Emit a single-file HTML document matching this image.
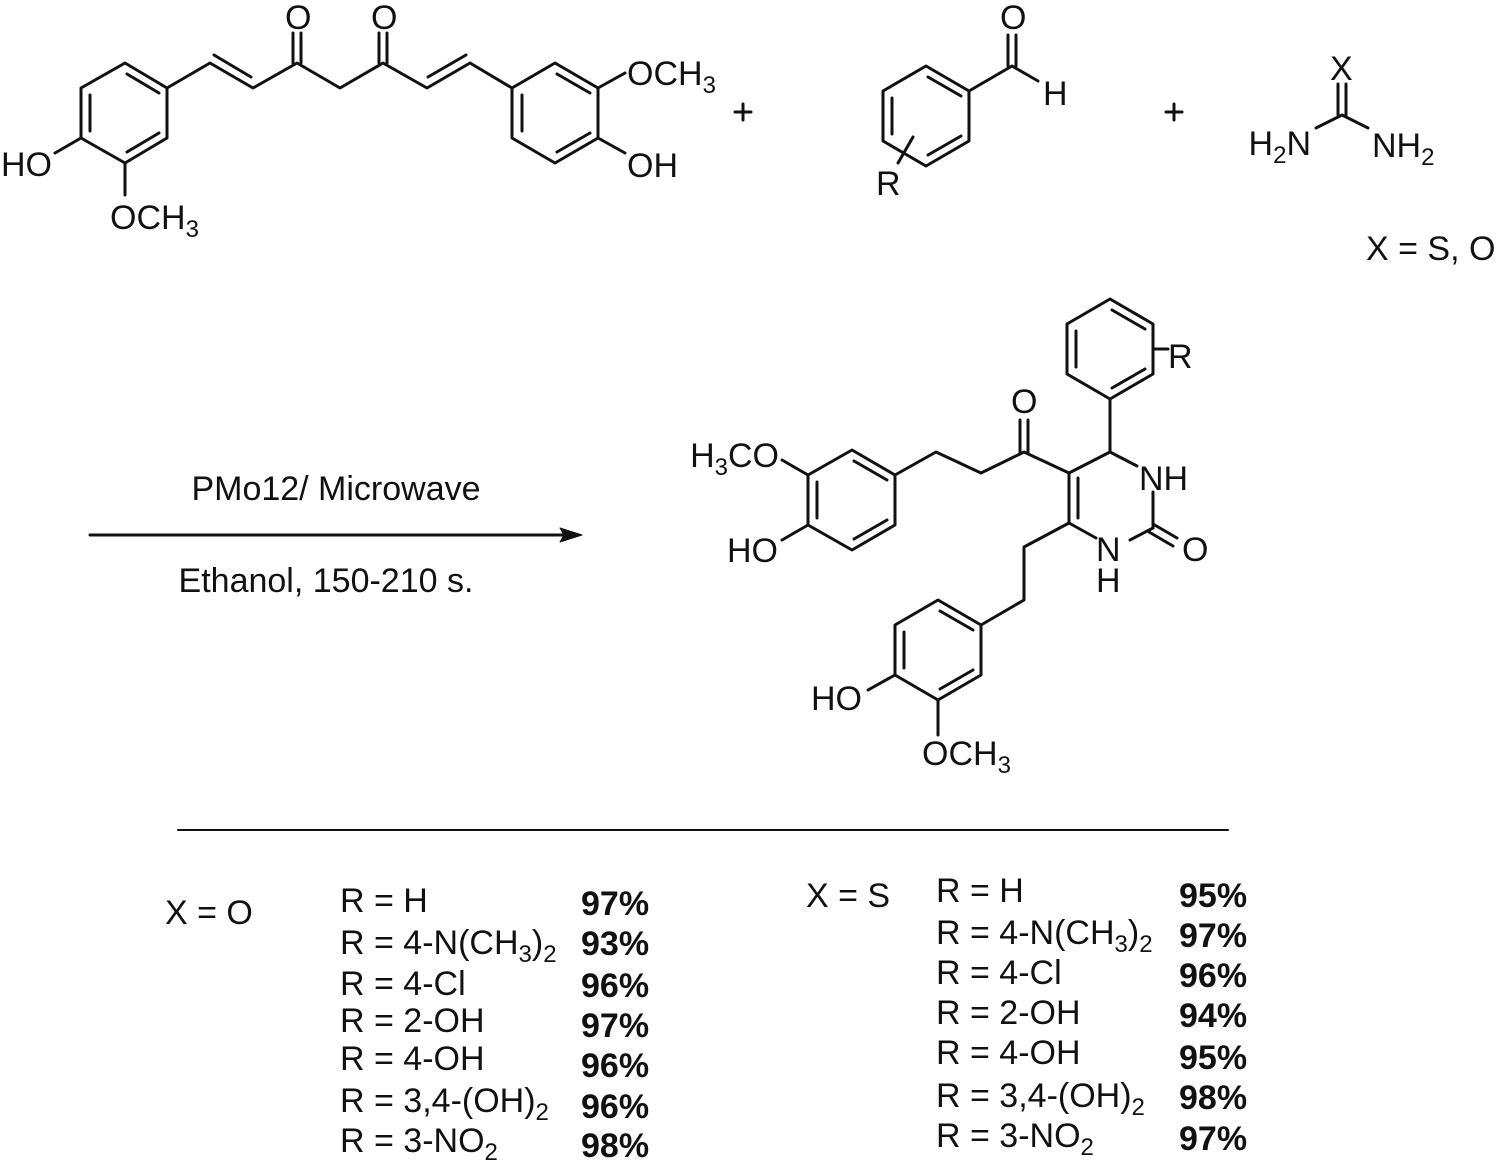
<!DOCTYPE html>
<html><head><meta charset="utf-8"><style>
html,body{margin:0;padding:0;background:#fff;}
svg{display:block}
text{font-family:"Liberation Sans",Arial,sans-serif;font-size:34px;fill:#111;}
.b{font-weight:bold}
</style></head><body>
<svg width="1500" height="1162" viewBox="0 0 1500 1162" xmlns="http://www.w3.org/2000/svg">
<g stroke="#111" stroke-width="3" fill="none" stroke-linecap="round" stroke-linejoin="round">
<polygon points="125,63 167,88 167,138 125,163 81,138 81,88"/>
<line x1="90" y1="95" x2="90" y2="131"/>
<line x1="127" y1="74" x2="159" y2="93"/>
<line x1="127" y1="152" x2="159" y2="133"/>
<line x1="81" y1="138" x2="55" y2="153"/>
<line x1="125" y1="163" x2="125" y2="195"/>
<polyline points="167,88 210,63 253,88 297,63 340,88 383,63 427,88 470,63 512,88"/>
<line x1="214" y1="55" x2="251" y2="77"/>
<line x1="428" y1="77" x2="466" y2="55"/>
<line x1="293" y1="63" x2="293" y2="33"/><line x1="301" y1="63" x2="301" y2="33"/>
<line x1="379" y1="63" x2="379" y2="33"/><line x1="387" y1="63" x2="387" y2="33"/>
<polygon points="555,63 598,88 598,138 555,163 512,138 512,88"/>
<line x1="522" y1="95" x2="522" y2="131"/>
<line x1="557" y1="74" x2="590" y2="93"/>
<line x1="557" y1="152" x2="590" y2="133"/>
<line x1="598" y1="88" x2="625" y2="73"/>
<line x1="598" y1="138" x2="625" y2="153"/>
<line x1="735" y1="112" x2="751" y2="112"/><line x1="743" y1="104" x2="743" y2="120"/>
<line x1="1166" y1="112" x2="1182" y2="112"/><line x1="1174" y1="104" x2="1174" y2="120"/>
<polygon points="926,66 969,91 969,141 926,166 883,141 883,91"/>
<line x1="892" y1="98" x2="892" y2="134"/>
<line x1="928" y1="77" x2="961" y2="96"/>
<line x1="928" y1="155" x2="961" y2="136"/>
<polyline points="969,91 1012,66 1038,81"/>
<line x1="1008" y1="66" x2="1008" y2="35"/><line x1="1016" y1="66" x2="1016" y2="35"/>
<line x1="913" y1="137" x2="898" y2="163"/>
<line x1="1338" y1="84" x2="1338" y2="115"/><line x1="1346" y1="84" x2="1346" y2="115"/>
<polyline points="1316,128 1342,115 1368,128"/>
<line x1="90" y1="535" x2="570" y2="535"/>
<polygon points="582,535 560,528 564,535 560,542" fill="#111" stroke-width="1"/>
<polygon points="1110,299 1153,324 1153,374 1110,399 1067,374 1067,324"/>
<line x1="1076" y1="331" x2="1076" y2="367"/>
<line x1="1112" y1="310" x2="1145" y2="329"/>
<line x1="1112" y1="388" x2="1145" y2="369"/>
<line x1="1153" y1="349" x2="1168" y2="349"/>
<line x1="1110" y1="399" x2="1110" y2="452"/>
<polyline points="1137,466 1110,452 1069,473 1069,523 1096,538"/>
<line x1="1078" y1="478" x2="1078" y2="518"/>
<line x1="1153" y1="492" x2="1153" y2="528"/>
<line x1="1153" y1="528" x2="1130" y2="540"/>
<line x1="1153" y1="524" x2="1177" y2="538"/><line x1="1149" y1="532" x2="1173" y2="546"/>
<polyline points="1069,473 1024,452 981,473 936,452 895,475"/>
<line x1="1020" y1="452" x2="1020" y2="420"/><line x1="1028" y1="452" x2="1028" y2="420"/>
<polygon points="852,450 895,475 895,525 852,550 808,525 808,475"/>
<line x1="817" y1="482" x2="817" y2="518"/>
<line x1="854" y1="461" x2="887" y2="480"/>
<line x1="854" y1="539" x2="887" y2="520"/>
<line x1="808" y1="475" x2="782" y2="460"/>
<line x1="808" y1="525" x2="782" y2="540"/>
<polyline points="1069,523 1024,547 1024,600 981,625"/>
<polygon points="938,600 981,625 981,675 938,700 895,675 895,625"/>
<line x1="904" y1="632" x2="904" y2="668"/>
<line x1="940" y1="611" x2="973" y2="630"/>
<line x1="940" y1="689" x2="973" y2="670"/>
<line x1="895" y1="675" x2="868" y2="690"/>
<line x1="938" y1="700" x2="938" y2="735"/>
<line x1="178" y1="830" x2="1228" y2="830" stroke-width="2"/>
</g>
<g>
<text x="52" y="176" text-anchor="end">HO</text>
<text x="110" y="229">OCH<tspan font-size="24" dy="8">3</tspan></text>
<text x="285" y="29">O</text>
<text x="371" y="29">O</text>
<text x="627" y="85">OCH<tspan font-size="24" dy="8">3</tspan></text>
<text x="627" y="177">OH</text>
<text x="1000" y="29">O</text>
<text x="1043" y="105">H</text>
<text x="876" y="195">R</text>
<text x="1330" y="80">X</text>
<text x="1311" y="155" text-anchor="end">H<tspan font-size="24" dy="8">2</tspan><tspan dy="-8">N</tspan></text>
<text x="1372" y="157">NH<tspan font-size="24" dy="8">2</tspan></text>
<text x="1366" y="260">X = S, O</text>
<text x="1168" y="368">R</text>
<text x="1011" y="413">O</text>
<text x="779" y="467" text-anchor="end">H<tspan font-size="24" dy="8">3</tspan><tspan dy="-8">CO</tspan></text>
<text x="1139" y="490">NH</text>
<text x="778" y="562" text-anchor="end">HO</text>
<text x="1096" y="561">N</text>
<text x="1096" y="592">H</text>
<text x="1182" y="561">O</text>
<text x="862" y="710" text-anchor="end">HO</text>
<text x="922" y="765">OCH<tspan font-size="24" dy="8">3</tspan></text>
<text x="336" y="500" text-anchor="middle">PMo12/ Microwave</text>
<text x="326" y="592" text-anchor="middle">Ethanol, 150-210 s.</text>

<text x="165" y="924">X = O</text>
<text x="340" y="912">R = H</text>
<text x="340" y="954">R = 4-N(CH<tspan font-size="24" dy="8">3</tspan><tspan dy="-8">)</tspan><tspan font-size="24" dy="8">2</tspan></text>
<text x="340" y="995">R = 4-Cl</text>
<text x="340" y="1032">R = 2-OH</text>
<text x="340" y="1070">R = 4-OH</text>
<text x="340" y="1112">R = 3,4-(OH)<tspan font-size="24" dy="8">2</tspan></text>
<text x="340" y="1152">R = 3-NO<tspan font-size="24" dy="8">2</tspan></text>
<text class="b" x="581" y="915">97%</text>
<text class="b" x="581" y="955">93%</text>
<text class="b" x="581" y="997">96%</text>
<text class="b" x="581" y="1037">97%</text>
<text class="b" x="581" y="1077">96%</text>
<text class="b" x="581" y="1118">96%</text>
<text class="b" x="581" y="1157">98%</text>

<text x="806" y="907">X = S</text>
<text x="936" y="902">R = H</text>
<text x="936" y="944">R = 4-N(CH<tspan font-size="24" dy="8">3</tspan><tspan dy="-8">)</tspan><tspan font-size="24" dy="8">2</tspan></text>
<text x="936" y="984">R = 4-Cl</text>
<text x="936" y="1024">R = 2-OH</text>
<text x="936" y="1064">R = 4-OH</text>
<text x="936" y="1107">R = 3,4-(OH)<tspan font-size="24" dy="8">2</tspan></text>
<text x="936" y="1147">R = 3-NO<tspan font-size="24" dy="8">2</tspan></text>
<text class="b" x="1179" y="907">95%</text>
<text class="b" x="1179" y="947">97%</text>
<text class="b" x="1179" y="987">96%</text>
<text class="b" x="1179" y="1027">94%</text>
<text class="b" x="1179" y="1069">95%</text>
<text class="b" x="1179" y="1109">98%</text>
<text class="b" x="1179" y="1150">97%</text>
</g>
</svg>
</body></html>
